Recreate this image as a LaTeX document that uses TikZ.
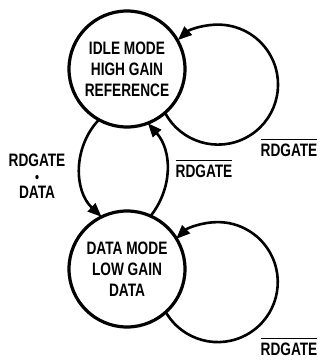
\documentclass[tikz,border=0pt]{standalone}
\usepackage{fontspec}
\setmainfont{Liberation Sans}[FakeStretch=0.76]
\usetikzlibrary{arrows.meta}
% signal name with a bar over it (active-low)
\newcommand\negsig[1]{\vbox{\hrule height 1.1pt\kern4pt\hbox{#1}}}
\begin{document}
\begin{tikzpicture}[x=1pt,y=1pt,
  state/.style={circle, draw, line width=3.2pt, minimum size=116pt, inner sep=0pt,
    outer sep=0pt, align=center, font=\fontsize{18}{21}\selectfont\bfseries},
  trans/.style={line width=2.6pt, -{Triangle[length=14pt,width=11pt]}},
  sig/.style={font=\fontsize{18}{19}\selectfont\bfseries, inner sep=0pt, align=center}]
\useasboundingbox (0,0) rectangle (322,360);
% states
\node[state] (idle) at (127,291) {IDLE MODE\\HIGH GAIN\\REFERENCE};
\node[state] (data) at (127,91) {DATA MODE\\LOW GAIN\\DATA};
% self loops
\draw[trans] (idle.-49) arc[start angle=208,end angle=492,radius=60];
\draw[trans] (data.-48) arc[start angle=210,end angle=494,radius=60];
% transitions between the states
\draw[trans] (idle.241) to[bend right=45] (data.116);
\draw[trans] (data.66) to[bend right=40] (idle.-69);
% conditions
\node[sig] (rdgdata) at (37,184) {RDGATE\\[-3pt]{\fontsize{15}{15}\selectfont\textbullet}\\[-3pt]DATA};
\node[sig] (nidle) at (289,212) {\negsig{RDGATE}};
\node[sig] (nback) at (204,191) {\negsig{RDGATE}};
\node[sig] (ndata) at (289,13) {\negsig{RDGATE}};
\end{tikzpicture}
\end{document}
